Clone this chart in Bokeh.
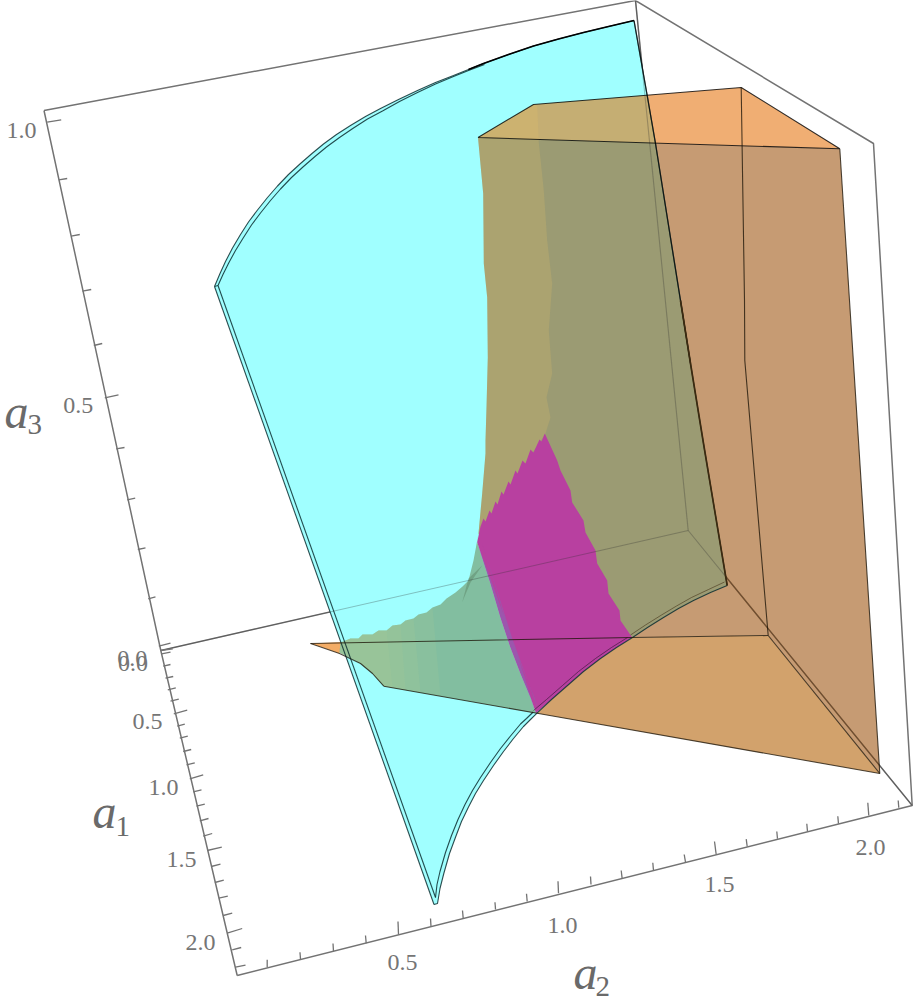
from bokeh.plotting import figure
from bokeh.models import Range1d
from bokeh.core.properties import value
from bokeh.embed import file_html
from bokeh.resources import INLINE

# ---- surfaces (x, y positions of the projected 3D view)
arc_outer = [(214,286),(219.5,273),(225,261),(232,247.5),(240,234),(248,221.5),(257,209.5),(267,197),(277,185.5),(288,174),(300,163),(311.5,153),(323,143.5),(336,134),(350,125),(365,116),(380,108),(398,99),(417,90),(435,82),(453,75),(468,69),(483,63),(508,54),(533,45.5),(558,38.5),(583,32),(608,26),(633.5,20)]
arc_inner = [(217.5,285),(222.7,273.5),(228.2,262.5),(235,250),(243,237),(251,224.5),(260,212.5),(270,200),(280,188.5),(291,177),(303,166),(314.5,156),(326,146.5),(339,137),(353,127.5),(367,118.5),(382,110.5),(399,101),(417,92),(435,83.5),(453,76),(468,70),(484,64)]
cyan_right = [(633.5,20),(646.7,95),(655,143),(680,300),(690,363),(703,443),(726.7,585)]
cyan_low = [(726.7,585),(710,592),(693,600),(678,608),(663,617),(647,627),(632,637),(616,647),(600,658),(583,671),(567,685),(551,699),(536.5,712.7)]
cyan_low_inner = [(724,581.5),(708,589),(691,597),(676,605.5),(661,614.5),(645,624.5),(630,634.5)]
cusp_outer = [(536.5,712.7),(530,719),(523,726),(513,738),(503,751),(493,765),(483,780),(475,793),(468,806.5),(461,821),(455,836.7),(449,853),(443.3,873),(439.5,888),(437,903),(433.5,904)]
cusp_inner = [(532.7,711.5),(526,718),(520,723.5),(510,735.5),(500,748),(490,762),(480,777),(472,790),(464.5,804),(457.5,819),(451,835),(445,852),(439.5,871),(436.5,884),(435,897)]
magenta_low_inner = [(627,637),(611,647),(595,658),(578,671),(562,685),(546,699),(533,710)]
left_inner = [(435,897),(217.5,285)]

top_face = [(477.5,137),(533,104),(740.7,87),(839.3,148.3)]
wall_left = [(477.5,137),(482.7,193),(483.3,263),(486.7,297),(487.3,357),(486,407),(485,440),(485,453),(481.7,493),(478,533)]
wall_rest = [(532,650),(632,637),(767.7,635),(879.3,773),(849,300),(839.3,148.3)]
bottom_face = [(536.5,712.7),(551,699),(567,685),(583,671),(600,658),(616,647),(632,637),(767.7,635),(879.3,773)]
tip_face = [(310,643),(342,641.5),(339,653),(325,648)]
band_edge = [(536.7,105),(538.3,142),(543.3,190),(546.7,240),(551.7,283),(548.3,330),(551.7,373),(546,397),(550,417),(545,433),(500,500),(478,533)]

green_top = [(340,642),(350,638),(358,638),(362,634),(372,634),(378,630),(386,630),(392,625),(400,624),(405,620),(413,618),(418,614),(426,612),(432,607),(440,604),(446,598),(455,592),(462,586),(468,580),(473,560),(478,533)]
magenta_left = [(535.5,712.7),(530,697),(520,673),(510,647),(500,617),(490,583),(476.7,541.7)]
green_low = [(383.3,685.7),(372,673),(360,663),(339,652)]
green_left = [(383.3,685.7),(372,673),(360,663),(339,652),(340,642)]
green_fade_top = [(432,607),(413,618),(400,624),(386,630)]
green_fade_low = [(440,695),(420,692),(405,689),(392,687)]

magenta_right = [(544.3,433),(556.7,460),(560,470),(570,490),(571.7,502),(583,520),(585,532),(595,550),(596.7,563),(606.7,580),(608,593),(619,610),(620,620),(631.7,637)]
magenta_bottom = [(616,647),(600,658),(583,671),(567,685),(551,699),(535.5,712.7)]
magenta_teeth = [(476.7,541.7),(480,526),(483,518),(485,521),(489,510),(491,513),(495,501),(497,504),(501,491),(503,494),(508,481),(510,484),(515,470),(517,473),(522,460),(525,463),(530,449),(533,452),(539,439),(541,441)]
violet_right = [(481,541),(494,583),(504,617),(514,647),(524,673),(534,697),(538,710)]

fin = [(461.7,601.7),(468,578),(481.7,565),(470,582)]

# ---- box frame
box_corner_a = (43.5,110)
box_apex = (635,0)
box_right = (873,143)
box_low_right = (911.7,805)
box_low_left = (236.7,975)
box_origin = (160.3,650)
box_back = (687.7,530)

# ---- ticks: start and end of each tick mark
a1_x0 = [158.3,161,162.7,165,167.3,170,173.3,176.7,179.3,182.7,186,189.3,192.7,196,199.3,202.7,206.7,210.7,214.3,218.3,222.7,226.7,231.7,235]
a1_y0 = [645.7,653.3,665.7,677.7,689.3,700.7,713.3,725.7,737.7,751,764.3,778.3,791.3,805.7,820.3,835.7,850,866,882,897.7,915,932.7,949.3,966.7]
a1_x1 = [170,170,170,172.7,175.3,178.3,186.7,184.3,187.3,190.7,194.3,202.7,201,204.3,208,211.7,221.3,220,223.3,227.3,231.7,241.7,240.7,245]
a1_y1 = [642.7,651.7,664,676,687.3,698.7,709.7,723.7,735.7,749,762.3,774.3,789.3,803.7,818,833,846.7,863.7,879.7,895.7,912.7,928,947,964.7]

a2_x0 = [266.7,300,333,365.7,398,430.5,462.7,495,526.7,558,590.5,621.7,653,685,715.7,746.7,777,807,838,868.3,898.3]
a2_y0 = [966.7,959,950.7,942.7,934,926,917.7,909,901,892.7,884,878.3,870,861.7,854,846,838.3,831,823.3,815,807.3]
a2_x1 = [266.7,299.5,332.5,365,397.5,430,462,494.5,526,557.5,590,620.7,652.3,683.7,714,745.7,776.3,806.3,837.3,867.3,897.7]
a2_y1 = [959.3,951.7,943,935,921,918,910,901.7,893.3,880.7,876,870,862.3,854,841,838.7,831,823.3,815.7,802.3,800]

a3_x0 = [46.7,58.3,70.7,82,93.3,104.3,115.7,126.7,137.3,147.7,160]
a3_y0 = [121.7,179.3,235.7,290.7,345,397.3,448.3,499.3,549,598.3,650]
a3_x1 = [60.7,66.7,79.3,90.7,101.7,118,124,134.7,145,155,172.3]
a3_y1 = [119.3,178,234,289,343,394.3,447,497.7,547.3,596.3,648.3]

# ---- tick labels
tick_text = ["0.0","0.5","1.0","1.5","2.0","0.5","1.0","1.5","2.0","0.0","0.5","1.0"]
tick_x = [131.7,147,163,181,200,402,562,719,870,132.5,77.7,21]
tick_y = [658,721,786.7,859,941.7,962,925,884,846.7,663,405,130]

axis_a = ["a","a","a"]
axis_a_x = [92,573,4]
axis_a_y = [811,972,411]
axis_sub = ["1","2","3"]
axis_sub_x = [115,595,27]
axis_sub_y = [826,986,424]

FONT = value("Liberation Serif")
GREY = "#737373"

def xs(*parts):
    return [pt[0] for part in parts for pt in part]
def ys(*parts):
    return [pt[1] for part in parts for pt in part]

p = figure(width=918, height=1003, x_range=Range1d(0,918), y_range=Range1d(1003,0),
           toolbar_location=None, output_backend="svg", min_border=0)
p.axis.visible = False
p.grid.visible = False
p.outline_line_color = None
p.background_fill_color = "white"

frame = [
    [box_corner_a, box_apex, box_right, box_low_right, box_low_left],
    [box_corner_a, box_origin, box_low_left],
    [box_origin, box_back, box_low_right],
    [box_apex, box_back],
]
for seg in frame:
    p.line(xs(seg), ys(seg), line_color=GREY, line_width=1.5)

# cyan sheet
cy = arc_outer + cyan_right[1:] + cyan_low[1:] + cusp_outer[1:]
p.patch(xs(cy), ys(cy), fill_color="#a0ffff", line_color=None)

# orange volume
p.patch(xs(top_face), ys(top_face), fill_color=(228,108,0), fill_alpha=0.55, line_color=None)
wall = wall_left + wall_rest
p.patch(xs(wall), ys(wall), fill_color=(151,73,0), fill_alpha=0.55, line_color=None)
band = [(477.5,137),(533,104)] + band_edge + wall_left[::-1][1:-1]
p.patch(xs(band), ys(band), fill_color=(235,195,100), fill_alpha=0.2, line_color=None)
p.patch(xs(bottom_face), ys(bottom_face), fill_color=(210,162,108), line_color=None)
p.patch(xs(tip_face), ys(tip_face), fill_color=(243,172,102), line_color=None)

# green overlap
gr = green_top + magenta_left[::-1] + green_low
p.patch(xs(gr), ys(gr), fill_color=(130,190,160), line_color=None)
for (tx, ty), (lx, ly) in zip(green_fade_top, green_fade_low):
    upper = [pt for pt in green_top if pt[0] < tx] + [(tx, ty)]
    fade = upper + [(lx, ly)] + green_left
    p.patch(xs(fade), ys(fade), fill_color=(185,205,145), fill_alpha=0.13, line_color=None)
p.patch(xs(fin), ys(fin), fill_color=(90,130,100), fill_alpha=0.45, line_color=None)

# magenta overlap
mg = magenta_right + magenta_bottom + magenta_left[1:] + magenta_teeth[1:]
p.patch(xs(mg), ys(mg), fill_color=(184,64,160), line_color=None)
vi = magenta_left + violet_right[::-1]
p.patch(xs(vi), ys(vi), fill_color=(150,90,175), fill_alpha=0.85, line_color=None)

# frame seen through the surfaces
for seg in [[box_origin, box_back, box_low_right], [box_apex, box_back]]:
    p.line(xs(seg), ys(seg), line_color="#303030", line_alpha=0.3, line_width=1.1)

# cyan outline
EDGE = "#0c2e30"
outline_c = [arc_outer, arc_inner, cyan_right, cyan_low, cusp_outer, cusp_inner, left_inner,
             [arc_outer[0], (433.5,904)], [arc_outer[0], arc_inner[0]]]
for seg in outline_c:
    p.line(xs(seg), ys(seg), line_color=EDGE, line_alpha=0.85, line_width=1.1)
p.line(xs(arc_outer[21:]), ys(arc_outer[21:]), line_color="black", line_width=1.7)
p.line(xs(cyan_right[:5]), ys(cyan_right[:5]), line_color="black", line_alpha=0.6, line_width=1.4)
p.line(xs(cyan_right[3:]), ys(cyan_right[3:]), line_color="#3c2a10", line_width=1.7)
p.line(xs(cyan_low_inner), ys(cyan_low_inner), line_color="#3c2a10", line_alpha=0.55, line_width=1)
p.line(xs(magenta_low_inner), ys(magenta_low_inner), line_color="#301030", line_alpha=0.6, line_width=1)

# orange outline
top_loop = top_face + top_face[:1]
p.line(xs(top_loop), ys(top_loop), line_color="black", line_alpha=0.8, line_width=1.1)
solid = [
    [(839.3,148.3),(849,300),(879.3,773)],
    [(383.3,685.7),(536.5,712.7),(879.3,773)],
    [(740.7,87),(744,300),(744.3,360),(767.7,635)],
    [(767.7,635),(879.3,773)],
    [(310,643),(632,637),(767.7,635)],
    [(310,643),(339,653),(360,663),(372,673),(383.3,685.7)],
]
for seg in solid:
    p.line(xs(seg), ys(seg), line_color="#1c1408", line_alpha=0.78, line_width=1.1)

# ticks
for x0, y0, x1, y1 in [(a1_x0,a1_y0,a1_x1,a1_y1),(a2_x0,a2_y0,a2_x1,a2_y1),(a3_x0,a3_y0,a3_x1,a3_y1)]:
    p.segment(x0, y0, x1, y1, line_color=GREY, line_width=1.3)

p.text(tick_x, tick_y, text=tick_text, text_font=FONT, text_font_size="24px",
       text_color="#757575", text_align="center", text_baseline="alphabetic")
p.text(axis_a_x, axis_a_y, text=axis_a, text_font=FONT, text_font_style="italic",
       text_font_size="48px", text_color="#6a6a6a", text_align="left", text_baseline="alphabetic")
p.text(axis_sub_x, axis_sub_y, text=axis_sub, text_font=FONT, text_font_size="29px",
       text_color="#6a6a6a", text_align="left", text_baseline="alphabetic")

open("out.html", "w").write(file_html(p, INLINE))
